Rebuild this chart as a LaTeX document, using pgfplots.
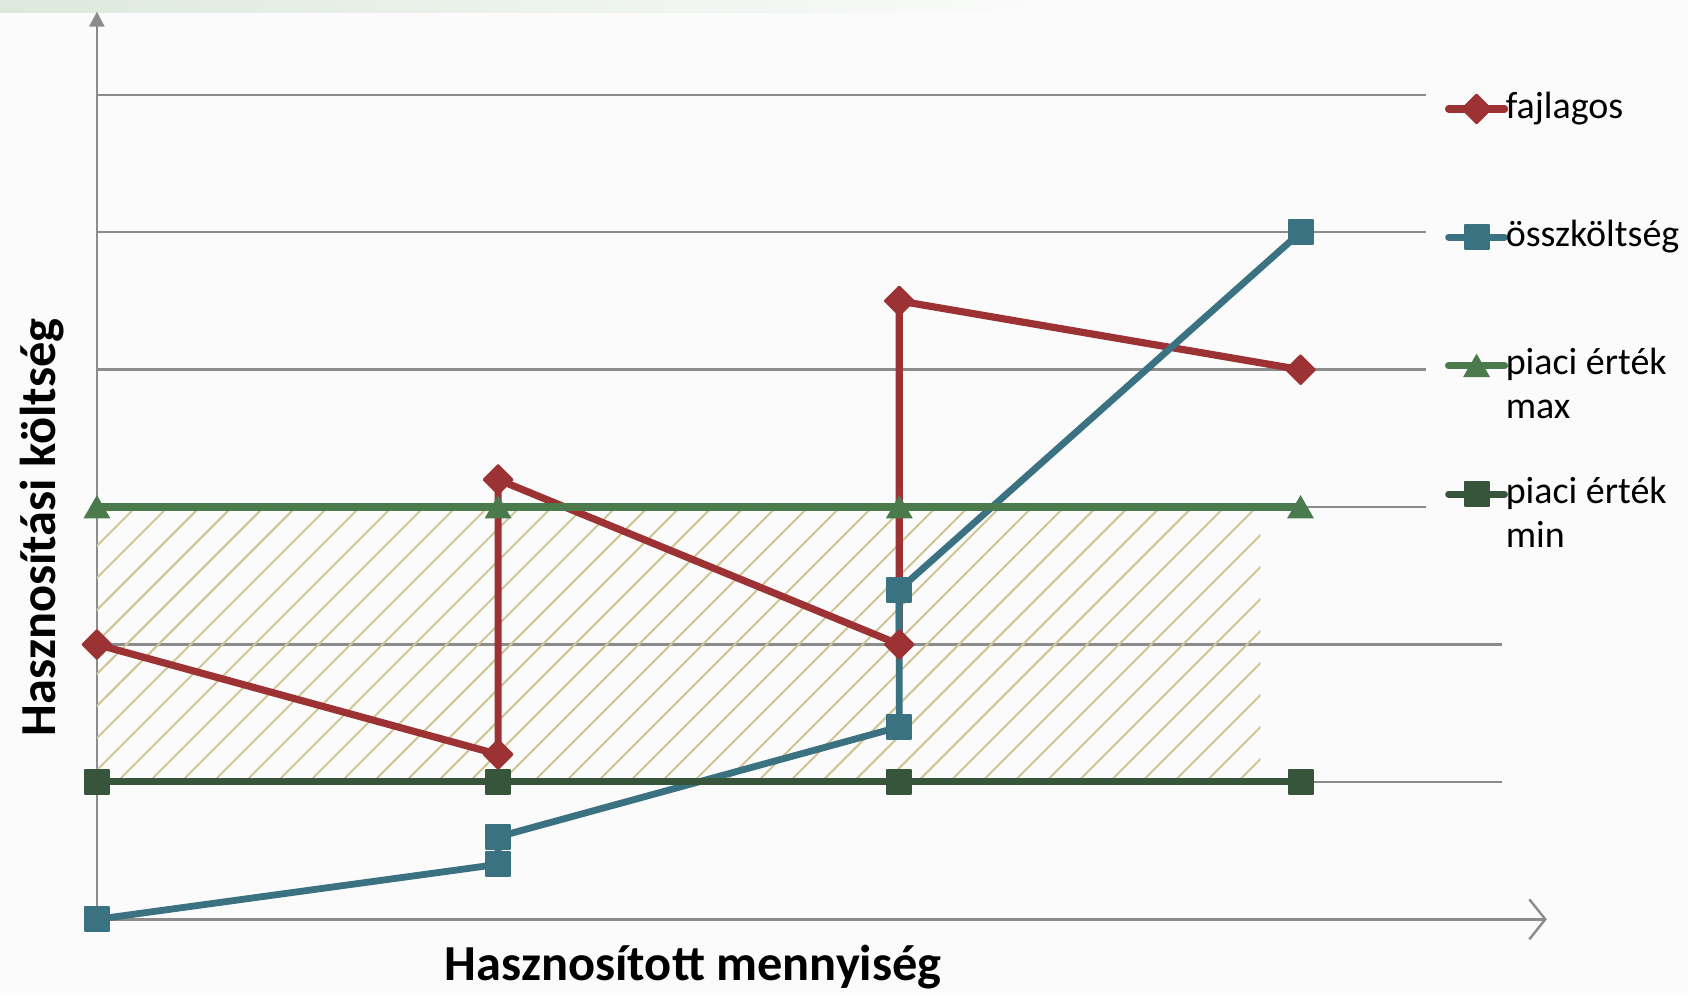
\documentclass[border=0pt]{standalone}
\usepackage{fontspec}
\setmainfont{Carlito}
\usepackage{pgfplots}
\pgfplotsset{compat=1.18}
\usetikzlibrary{patterns.meta,arrows.meta}
\definecolor{cred}{HTML}{9C3234}
\definecolor{cblue}{HTML}{3B7282}
\definecolor{cgmax}{HTML}{4B7A4D}
\definecolor{cgmin}{HTML}{37553A}
\definecolor{chatch}{HTML}{D0C596}
\definecolor{cgrid}{HTML}{8C8C8C}
\definecolor{cbg}{HTML}{FAFBFA}
\definecolor{cband}{HTML}{DDE9DD}
\newcommand{\LE}[2]{\begin{tabular}[t]{@{}l@{}}#1\\#2\end{tabular}}
\begin{document}
\begin{tikzpicture}
\fill[cbg] (0,0) rectangle (422pt,248.75pt);
\shade[left color=cband, right color=cbg] (0,245.5pt) rectangle (260pt,248.75pt);
\useasboundingbox (0,0) rectangle (422pt,248.75pt);
\begin{axis}[
  at={(24.225pt,18.925pt)}, anchor=origin,
  x=100.3pt, y=34.35pt,
  xmin=0, xmax=3.7, ymin=0, ymax=6.7,
  hide axis, clip=false,
  legend style={at={(axis cs:3.360,6.055)}, anchor=north west,
    draw=none, fill=none, inner sep=0pt, outer sep=0pt,
    nodes={inner sep=0pt, text depth=3pt, font=\fontsize{9.5pt}{11pt}\selectfont},
    cells={anchor=base west}, column sep=-0.6pt, row sep=21.4pt},
  legend image code/.code={\draw[mark repeat=2,mark phase=2,line cap=round,#1] plot coordinates {(0pt,2.3pt) (7pt,2.3pt) (14pt,2.3pt)};},
]
% gridlines
\draw[cgrid, line width=0.6pt] (axis cs:0,6) -- (axis cs:3.313,6);
\draw[cgrid, line width=0.6pt] (axis cs:0,5) -- (axis cs:3.313,5);
\draw[cgrid, line width=0.6pt] (axis cs:0,4) -- (axis cs:3.313,4);
\draw[cgrid, line width=0.6pt] (axis cs:0,3) -- (axis cs:3.313,3);
\draw[cgrid, line width=0.6pt] (axis cs:0,2) -- (axis cs:3.503,2);
\draw[cgrid, line width=0.6pt] (axis cs:0,1) -- (axis cs:3.503,1);
\draw[cgrid, line width=0.6pt, -{Straight Barb[length=4pt,width=10pt,line width=0.6pt]}] (axis cs:0,0) -- (axis cs:3.614,0);
\draw[cgrid, line width=0.6pt, -{Triangle[length=3.75pt,width=3.75pt]}] (axis cs:0,-0.01) -- (axis cs:0,6.606);
% hatched region
\addplot[draw=none, pattern={Lines[angle=45,distance=5.66pt,line width=0.5pt]}, pattern color=chatch, forget plot]
  coordinates {(0,1) (2.9,1) (2.9,3) (0,3)} -- cycle;
% series
\addplot[cred, line width=1.8pt, line join=round, mark=diamond*,
  mark size=3.6pt, mark options={solid, xscale=1.333, line width=0.5pt, line join=round}]
  coordinates {(0,2) (1,1.2) (1,3.2) (2,2) (2,4.5) (3,4)};
\addlegendentry{\LE{fajlagos}{\mbox{}}}
\addplot[cblue, line width=1.7pt, line join=round, mark=square*,
  mark size=3.0pt, mark options={solid, line width=0.5pt, line join=round}]
  coordinates {(0,0) (1,0.4) (1,0.6) (2,1.4) (2,2.4) (3,5)};
\addlegendentry{\LE{összköltség}{\mbox{}}}
\addplot[cgmax, line width=1.8pt, mark=triangle*,
  mark size=3.6pt, mark options={solid, yshift=-0.9pt, line width=0.3pt}]
  coordinates {(0,3) (1,3) (2,3) (3,3)};
\addlegendentry{\LE{piaci érték}{max}}
\addplot[cgmin, line width=1.7pt, mark=square*,
  mark size=3.0pt, mark options={solid, line width=0.5pt, line join=round}]
  coordinates {(0,1) (1,1) (2,1) (3,1)};
\addlegendentry{\LE{piaci érték}{min}}
\end{axis}
\node[anchor=base, font=\fontsize{12.6pt}{15pt}\selectfont\bfseries] at (173.3pt,3.75pt) {Hasznosított mennyiség};
\node[anchor=base, rotate=90, font=\fontsize{12.6pt}{15pt}\selectfont\bfseries] at (13.75pt,116.9pt) {Hasznosítási költség};
\end{tikzpicture}
\end{document}
